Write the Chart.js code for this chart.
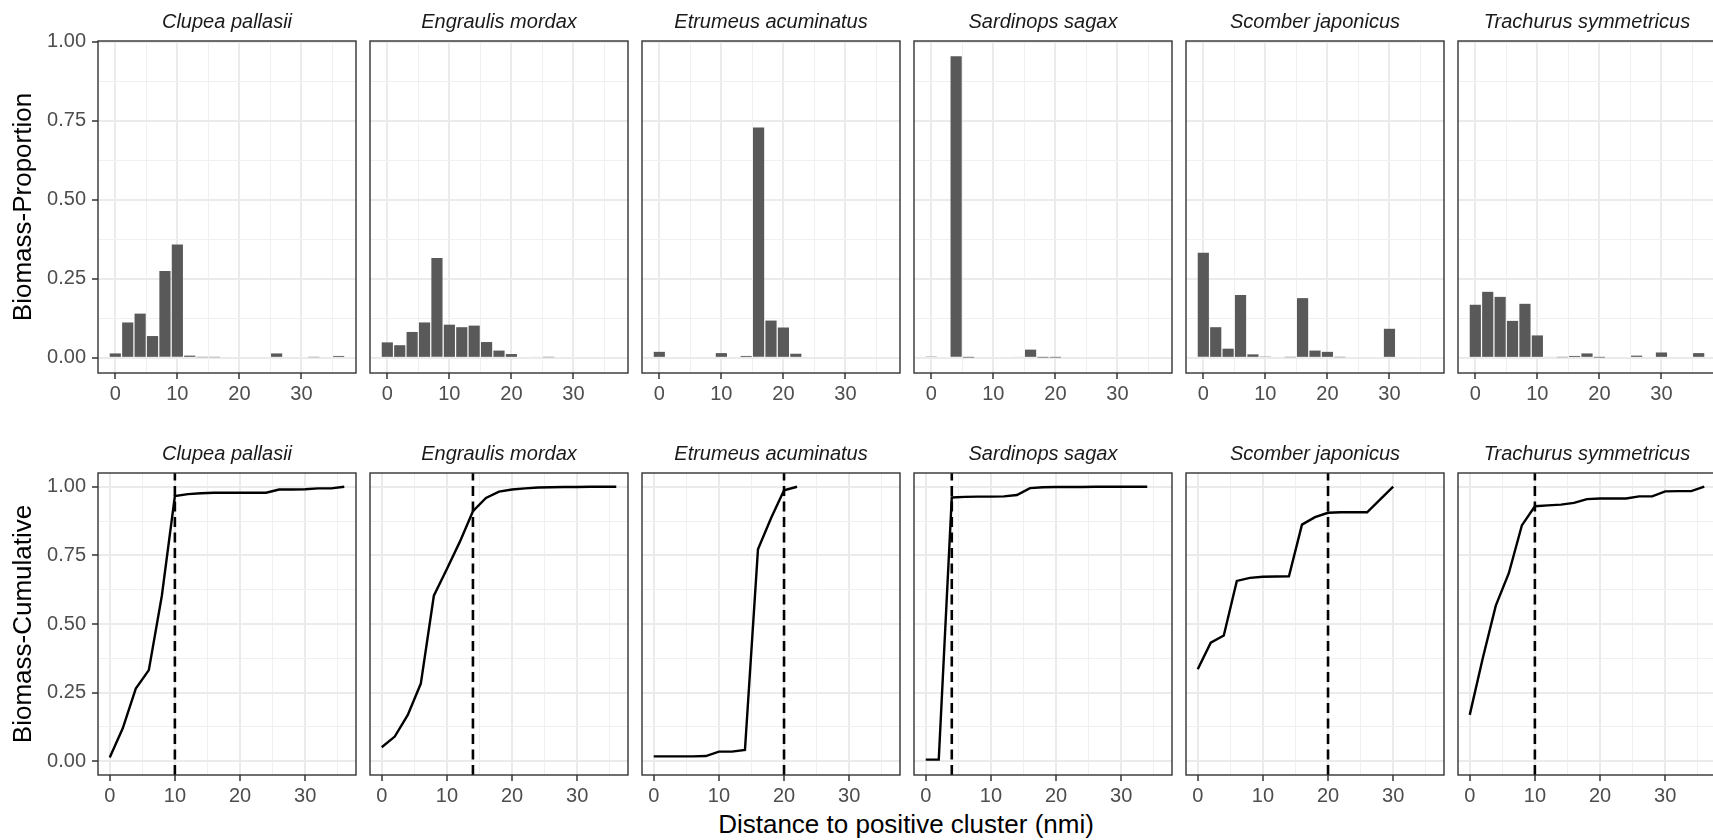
<!DOCTYPE html>
<html>
<head>
<meta charset="utf-8">
<title>Biomass by distance to positive cluster</title>
<script src="https://cdn.jsdelivr.net/npm/chart.js@4.4.1/dist/chart.umd.min.js"></script>
<style>
  html, body { margin: 0; padding: 0; background: #fff; overflow: hidden; }
  #fig { position: relative; width: 1713px; height: 840px; overflow: hidden; background: #fff; }
  #fig canvas { position: absolute; }
  #xtitle {
    position: absolute; left: 506px; top: 809px; width: 800px; height: 30px;
    line-height: 30px; text-align: center; font-size: 26px; color: #000;
    font-family: "Liberation Sans", Arial, Helvetica, sans-serif;
  }
</style>
</head>
<body>
<div id="fig"><div id="xtitle">Distance to positive cluster (nmi)</div></div>
<script>
// --- data ---
const species = [
  'Clupea pallasii', 'Engraulis mordax', 'Etrumeus acuminatus',
  'Sardinops sagax', 'Scomber japonicus', 'Trachurus symmetricus'
];

// distance bins (nmi), shared by the proportion panels
const bins = [0, 2, 4, 6, 8, 10, 12, 14, 16, 18, 20, 22, 24, 26, 28, 30, 32, 34, 36];

// biomass proportion per bin
const propClupea    = [0.014, 0.112, 0.140, 0.069, 0.275, 0.359, 0.007, 0.002, 0.002, 0, 0, 0, 0, 0.014, 0, 0, 0.002, 0, 0.006];
const propEngraulis = [0.049, 0.040, 0.082, 0.112, 0.316, 0.105, 0.097, 0.102, 0.050, 0.023, 0.012, 0, 0.003, 0.002, 0, 0, 0, 0, 0];
const propEtrumeus  = [0.019, 0, 0, 0, 0, 0.015, 0, 0.006, 0.729, 0.118, 0.096, 0.013, 0, 0, 0, 0, 0, 0, 0];
const propSardinops = [0.004, 0, 0.955, 0.001, 0, 0, 0, 0.003, 0.026, 0.001, 0.001, 0, 0, 0, 0, 0, 0, 0, 0];
const propScomber   = [0.333, 0.097, 0.029, 0.199, 0.011, 0.004, 0, 0.002, 0.189, 0.023, 0.019, 0.002, 0, 0, 0, 0.092, 0, 0, 0];
const propTrachurus = [0.168, 0.209, 0.193, 0.117, 0.171, 0.071, 0.003, 0.002, 0.006, 0.014, 0.001, 0, 0, 0.007, 0, 0.017, 0, 0, 0.015];

// cumulative biomass (distance, value)
const cumXClupea    = [0, 2, 4, 6, 8, 10, 12, 14, 16, 18, 20, 22, 24, 26, 28, 30, 32, 34, 36];
const cumYClupea    = [0.014, 0.120, 0.265, 0.332, 0.603, 0.966, 0.973, 0.976, 0.978, 0.978, 0.978, 0.978, 0.978, 0.990, 0.990, 0.991, 0.994, 0.994, 1.000];
const cumXEngraulis = [0, 2, 4, 6, 8, 10, 12, 14, 16, 18, 20, 22, 24, 26, 28, 30, 32, 34, 36];
const cumYEngraulis = [0.051, 0.090, 0.169, 0.283, 0.603, 0.700, 0.800, 0.911, 0.959, 0.982, 0.990, 0.994, 0.997, 0.998, 0.999, 0.999, 1.000, 1.000, 1.000];
const cumXEtrumeus  = [0, 2, 4, 6, 8, 10, 12, 14, 16, 18, 20, 22];
const cumYEtrumeus  = [0.018, 0.018, 0.018, 0.018, 0.019, 0.035, 0.035, 0.041, 0.772, 0.885, 0.987, 1.000];
const cumXSardinops = [0, 2, 4, 6, 8, 10, 12, 14, 16, 18, 20, 22, 24, 26, 28, 30, 32, 34];
const cumYSardinops = [0.006, 0.006, 0.961, 0.963, 0.964, 0.964, 0.965, 0.970, 0.995, 0.998, 0.999, 0.999, 0.999, 1.000, 1.000, 1.000, 1.000, 1.000];
const cumXScomber   = [0, 2, 4, 6, 8, 10, 12, 14, 16, 18, 20, 22, 24, 26, 30];
const cumYScomber   = [0.335, 0.432, 0.458, 0.657, 0.668, 0.672, 0.673, 0.674, 0.862, 0.889, 0.905, 0.907, 0.907, 0.907, 1.000];
const cumXTrachurus = [0, 2, 4, 6, 8, 10, 12, 14, 16, 18, 20, 22, 24, 26, 28, 30, 32, 34, 36];
const cumYTrachurus = [0.169, 0.375, 0.567, 0.685, 0.859, 0.929, 0.932, 0.935, 0.941, 0.955, 0.957, 0.957, 0.957, 0.965, 0.965, 0.983, 0.984, 0.984, 1.000];

// dashed threshold distance per species
const thresholds = [10, 14, 20, 4, 20, 10];

const proportions = [propClupea, propEngraulis, propEtrumeus, propSardinops, propScomber, propTrachurus];
const cumX = [cumXClupea, cumXEngraulis, cumXEtrumeus, cumXSardinops, cumXScomber, cumXTrachurus];
const cumY = [cumYClupea, cumYEngraulis, cumYEtrumeus, cumYSardinops, cumYScomber, cumYTrachurus];

// --- layout / style ---
const FONT = '"Liberation Sans", Arial, Helvetica, sans-serif';
Chart.defaults.font.family = FONT;

const PANEL_LEFT = 98;
const PANEL_STEP = 272;
const PANEL_W = 258;
const TITLE_H = 33;
const XAXIS_H = 34;
const Y_LABEL_W = 98;

const rows = [
  { top: 41, height: 332, xMin: -2.79, xMax: 38.79, yMin: -0.048, yMax: 1.003, yTitle: 'Biomass-Proportion' },
  { top: 473, height: 302, xMin: -1.8, xMax: 37.8, yMin: -0.05, yMax: 1.05, yTitle: 'Biomass-Cumulative' }
];

const isMajor = (v, step) => Math.abs(v / step - Math.round(v / step)) < 1e-6;

// panel frame, drawn over the data like ggplot's panel.border
const panelBorder = {
  id: 'panelBorder',
  afterDraw(chart) {
    const { ctx, chartArea: a } = chart;
    ctx.save();
    ctx.strokeStyle = '#333333';
    ctx.lineWidth = 1.4;
    ctx.strokeRect(a.left, a.top, a.right - a.left, a.bottom - a.top);
    ctx.restore();
  }
};

function buildScales(row, col) {
  const first = col === 0;
  return {
    x: {
      type: 'linear',
      min: row.xMin,
      max: row.xMax,
      offset: false,
      afterFit: (s) => { s.height = XAXIS_H; },
      border: { display: false },
      grid: {
        offset: false,
        color: (c) => (c.tick && isMajor(c.tick.value, 10)) ? '#EBEBEB' : '#F0F0F0',
        lineWidth: (c) => (c.tick && isMajor(c.tick.value, 10)) ? 2 : 1,
        tickColor: (c) => (c.tick && isMajor(c.tick.value, 10)) ? '#333333' : 'rgba(0,0,0,0)',
        tickWidth: 1.5,
        tickLength: 6
      },
      ticks: {
        stepSize: 5,
        includeBounds: false,
        autoSkip: false,
        maxRotation: 0,
        padding: 3,
        color: '#4D4D4D',
        font: { size: 20 },
        callback: (v) => isMajor(v, 10) ? String(Math.round(v)) : ''
      }
    },
    y: {
      type: 'linear',
      min: row.yMin,
      max: row.yMax,
      afterFit: (s) => { s.width = first ? Y_LABEL_W : 1; },
      border: { display: false },
      grid: {
        color: (c) => (c.tick && isMajor(c.tick.value, 0.25)) ? '#EBEBEB' : '#F0F0F0',
        lineWidth: (c) => (c.tick && isMajor(c.tick.value, 0.25)) ? 2 : 1,
        tickColor: (c) => (c.tick && isMajor(c.tick.value, 0.25)) ? '#333333' : 'rgba(0,0,0,0)',
        tickWidth: 1.5,
        tickLength: 6,
        drawTicks: first
      },
      ticks: {
        display: first,
        stepSize: 0.125,
        includeBounds: false,
        autoSkip: false,
        padding: 6,
        color: '#4D4D4D',
        font: { size: 20 },
        callback: (v) => isMajor(v, 0.25) ? v.toFixed(2) : ''
      },
      title: {
        display: first,
        text: row.yTitle,
        color: '#000000',
        font: { size: 26 },
        padding: { top: 8, bottom: 0 }
      }
    }
  };
}

function baseOptions(row, col) {
  return {
    responsive: false,
    animation: false,
    devicePixelRatio: 1,
    events: [],
    layout: { padding: { top: 0, right: 1, bottom: 0, left: 0 } },
    scales: buildScales(row, col),
    plugins: {
      legend: { display: false },
      tooltip: { enabled: false },
      title: {
        display: true,
        text: species[col],
        fullSize: false,
        color: '#1A1A1A',
        font: { size: 20, style: 'italic', weight: 'normal' },
        padding: { top: 2, bottom: 7 }
      }
    }
  };
}

function createProportionChart(col) {
  const vals = proportions[col];
  return {
    type: 'bar',
    data: {
      datasets: [{
        data: bins.map((b, i) => ({ x: b, y: vals[i] })),
        backgroundColor: '#595959',
        borderWidth: 0,
        barPercentage: 0.9,
        categoryPercentage: 1
      }]
    },
    options: baseOptions(rows[0], col),
    plugins: [panelBorder]
  };
}

function createCumulativeChart(col) {
  const row = rows[1];
  const xs = cumX[col];
  const ys = cumY[col];
  return {
    type: 'line',
    data: {
      datasets: [
        {
          data: xs.map((x, i) => ({ x, y: ys[i] })),
          borderColor: '#000000',
          borderWidth: 2.4,
          pointRadius: 0,
          tension: 0,
          fill: false,
          order: 1
        },
        {
          // vertical threshold line spanning the full y range
          data: [{ x: thresholds[col], y: row.yMin }, { x: thresholds[col], y: row.yMax }],
          borderColor: '#000000',
          borderWidth: 2.6,
          borderDash: [10, 5.5],
          pointRadius: 0,
          fill: false,
          order: 0
        }
      ]
    },
    options: baseOptions(row, col),
    plugins: [panelBorder]
  };
}

function renderPanel(rowIdx, col, config) {
  const row = rows[rowIdx];
  const panelLeft = PANEL_LEFT + col * PANEL_STEP;
  const yw = col === 0 ? Y_LABEL_W : 1;
  const canvas = document.createElement('canvas');
  canvas.width = yw + PANEL_W + 1;
  canvas.height = TITLE_H + row.height + XAXIS_H;
  canvas.style.left = (panelLeft - yw) + 'px';
  canvas.style.top = (row.top - TITLE_H) + 'px';
  document.getElementById('fig').appendChild(canvas);
  return new Chart(canvas.getContext('2d'), config);
}

species.forEach((_, col) => {
  renderPanel(0, col, createProportionChart(col));
  renderPanel(1, col, createCumulativeChart(col));
});
</script>
</body>
</html>
